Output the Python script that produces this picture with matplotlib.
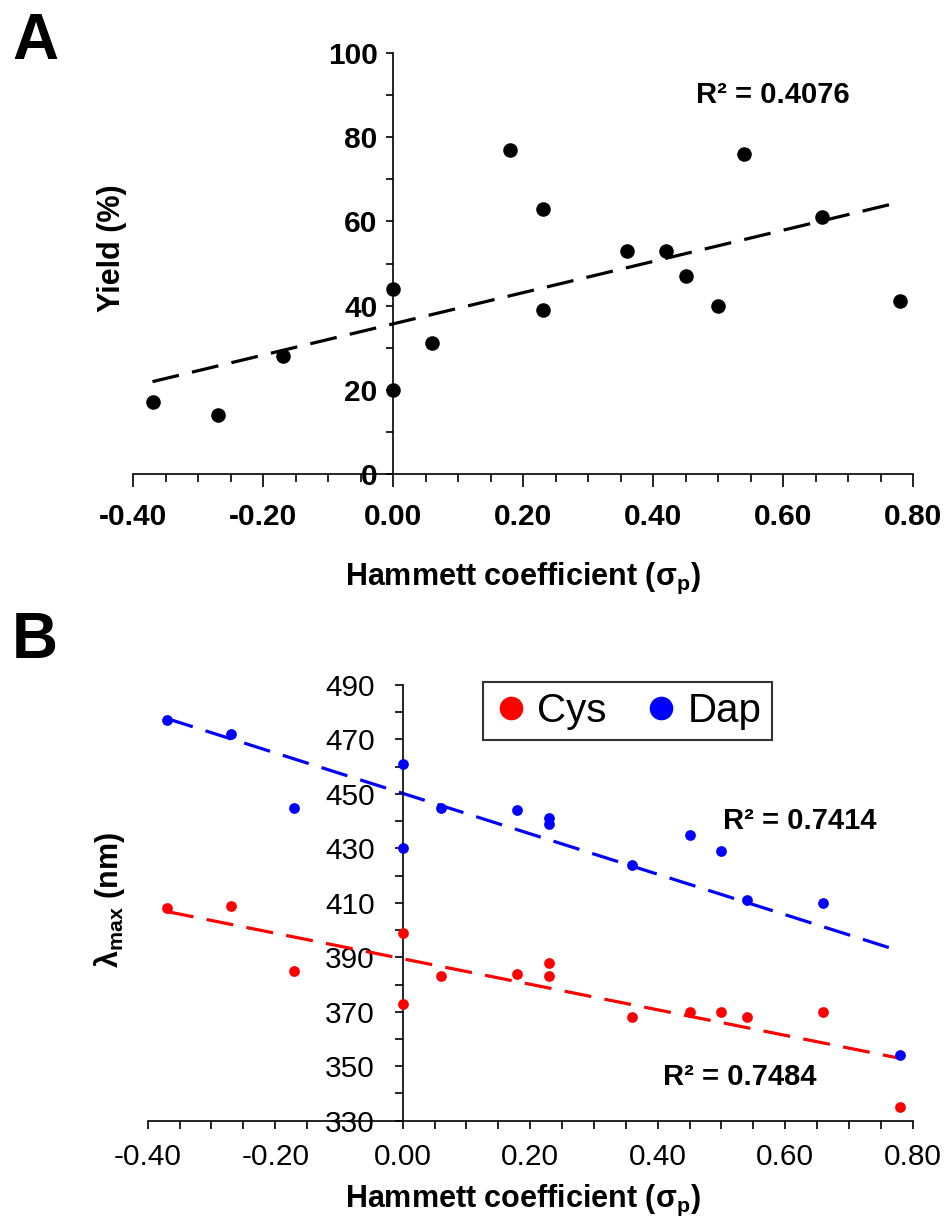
import numpy as np
import matplotlib
matplotlib.use("Agg")
import matplotlib.pyplot as plt
from matplotlib.lines import Line2D
from matplotlib.ticker import MultipleLocator, FormatStrFormatter, FixedLocator

plt.rcParams['font.family'] = ['Liberation Sans', 'DejaVu Sans']
plt.rcParams['mathtext.fontset'] = 'custom'
plt.rcParams['mathtext.rm'] = 'Liberation Sans:bold'
plt.rcParams['mathtext.it'] = 'Liberation Sans:bold:italic'
plt.rcParams['mathtext.bf'] = 'Liberation Sans:bold'

# ---------------- data ----------------
sigma_a = [-0.37, -0.27, -0.17, 0.00, 0.00, 0.06, 0.18, 0.23, 0.23, 0.36, 0.42, 0.45, 0.50, 0.54, 0.66, 0.78]
yield_a = [17, 14, 28, 44, 20, 31, 77, 63, 39, 53, 53, 47, 40, 76, 61, 41]
r2_a = "R² = 0.4076"

sigma_b = [-0.37, -0.27, -0.17, 0.00, 0.00, 0.06, 0.18, 0.23, 0.23, 0.36, 0.45, 0.50, 0.54, 0.66, 0.78]
dap = [477, 472, 445, 461, 430, 445, 444, 441, 439, 424, 435, 429, 411, 410, 354]
cys = [408, 409, 385, 399, 373, 383, 384, 388, 383, 368, 370, 370, 368, 370, 335]
r2_dap = "R² = 0.7414"
r2_cys = "R² = 0.7484"

yticks_b = [330, 350, 370, 390, 410, 430, 450, 470, 490]
yminor_b = [340, 360, 380, 400, 420, 440, 460, 480]

W, H = 951, 1222
fig = plt.figure(figsize=(W / 100, H / 100), dpi=100)


def px_axes(left, top, right, bottom):
    return fig.add_axes([left / W, 1 - bottom / H, (right - left) / W, (bottom - top) / H])


def style_axes(ax):
    ax.spines['top'].set_visible(False)
    ax.spines['right'].set_visible(False)
    ax.spines['left'].set_position(('data', 0))
    for s in ('left', 'bottom'):
        ax.spines[s].set_linewidth(1.2)
    ax.patch.set_visible(False)


def trend(ax, x, y, color):
    x = np.asarray(x, float)
    y = np.asarray(y, float)
    m, b = np.polyfit(x, y, 1)
    xs = np.array([x.min(), x.max()])
    ax.plot(xs, m * xs + b, color=color, lw=2.3, linestyle=(0, (8.5, 4.2)), zorder=2)


# ---------------- panel A ----------------
axA = px_axes(133, 53, 913, 474)
style_axes(axA)
axA.set_xlim(-0.4, 0.8)
axA.set_ylim(0, 100)
axA.scatter(sigma_a, yield_a, s=110, color='black', zorder=3, linewidths=0)
trend(axA, sigma_a, yield_a, 'black')
axA.xaxis.set_major_locator(MultipleLocator(0.2))
axA.xaxis.set_minor_locator(MultipleLocator(0.05))
axA.yaxis.set_major_locator(MultipleLocator(20))
axA.yaxis.set_minor_locator(MultipleLocator(10))
axA.xaxis.set_major_formatter(FormatStrFormatter('%.2f'))
axA.tick_params(axis='x', which='major', direction='out', length=9, width=1.2, pad=12, labelsize=21.5)
axA.tick_params(axis='x', which='minor', direction='out', length=6, width=1.2)
axA.tick_params(axis='y', which='both', direction='out', length=5, width=1.2, pad=6, labelsize=21.5)
for lab in axA.get_xticklabels() + axA.get_yticklabels():
    lab.set_fontweight('bold')
axA.set_xlabel('Hammett coefficient (σ$_\\mathrm{p}$)', fontsize=22, fontweight='bold')
axA.xaxis.label.set_va('baseline')
axA.xaxis.set_label_coords(0.5, (474 - 585) / 421)
axA.set_ylabel('Yield (%)', fontsize=22, fontweight='bold')
axA.yaxis.set_label_coords((127 - 133) / 780, (474 - 248) / 421)
axA.text(0.466, 90, r2_a, fontsize=21, fontweight='bold', ha='left', va='center')
fig.text(12 / W, 1 - 59 / H, 'A', fontsize=46, fontweight='bold', ha='left', va='baseline')

# ---------------- panel B ----------------
axB = px_axes(147.7, 685, 912.7, 1120.7)
style_axes(axB)
axB.set_xlim(-0.4, 0.8)
axB.set_ylim(330, 490)
axB.scatter(sigma_b, cys, s=60, color='#ff0000', zorder=3, linewidths=0)
axB.scatter(sigma_b, dap, s=60, color='#0000ff', zorder=3, linewidths=0)
trend(axB, sigma_b, dap, '#0000ff')
trend(axB, sigma_b, cys, '#ff0000')
axB.xaxis.set_major_locator(MultipleLocator(0.2))
axB.xaxis.set_minor_locator(MultipleLocator(0.05))
axB.yaxis.set_major_locator(FixedLocator(yticks_b))
axB.yaxis.set_minor_locator(FixedLocator(yminor_b))
axB.xaxis.set_major_formatter(FormatStrFormatter('%.2f'))
axB.tick_params(axis='x', which='both', direction='out', length=6, width=1.2, pad=10, labelsize=21.5)
axB.tick_params(axis='y', which='both', direction='out', length=6, width=1.2, pad=14, labelsize=21.5)
axB.set_xlabel('Hammett coefficient (σ$_\\mathrm{p}$)', fontsize=22, fontweight='bold')
axB.xaxis.label.set_va('baseline')
axB.xaxis.set_label_coords((523 - 147.7) / 765, (1120.7 - 1206.7) / 435.7)
axB.set_ylabel('λ$_\\mathrm{max}$ (nm)', fontsize=22, fontweight='bold')
axB.yaxis.set_label_coords((127 - 147.7) / 765, (1120.7 - 900) / 435.7)
axB.text(0.502, 440, r2_dap, fontsize=21, fontweight='bold', ha='left', va='center')
axB.text(0.408, 346, r2_cys, fontsize=21, fontweight='bold', ha='left', va='center')
handles = [Line2D([], [], marker='o', linestyle='none', color='#ff0000', markersize=17, markeredgewidth=0),
           Line2D([], [], marker='o', linestyle='none', color='#0000ff', markersize=17, markeredgewidth=0)]
leg = axB.legend(handles, ['Cys', 'Dap'], loc='upper left',
                 bbox_to_anchor=((483 - 147.7) / 765, (1120.7 - 682) / 435.7),
                 borderaxespad=0, ncol=2, fontsize=29, frameon=True, fancybox=False,
                 handlelength=0.9, handletextpad=0.2, columnspacing=0.9, borderpad=0.25)
leg.get_frame().set_edgecolor('black')
leg.get_frame().set_linewidth(1.5)
fig.text(12 / W, 1 - 658 / H, 'B', fontsize=46, fontweight='bold', ha='left', va='baseline')

fig.savefig('out.png', dpi=100, facecolor='white')
